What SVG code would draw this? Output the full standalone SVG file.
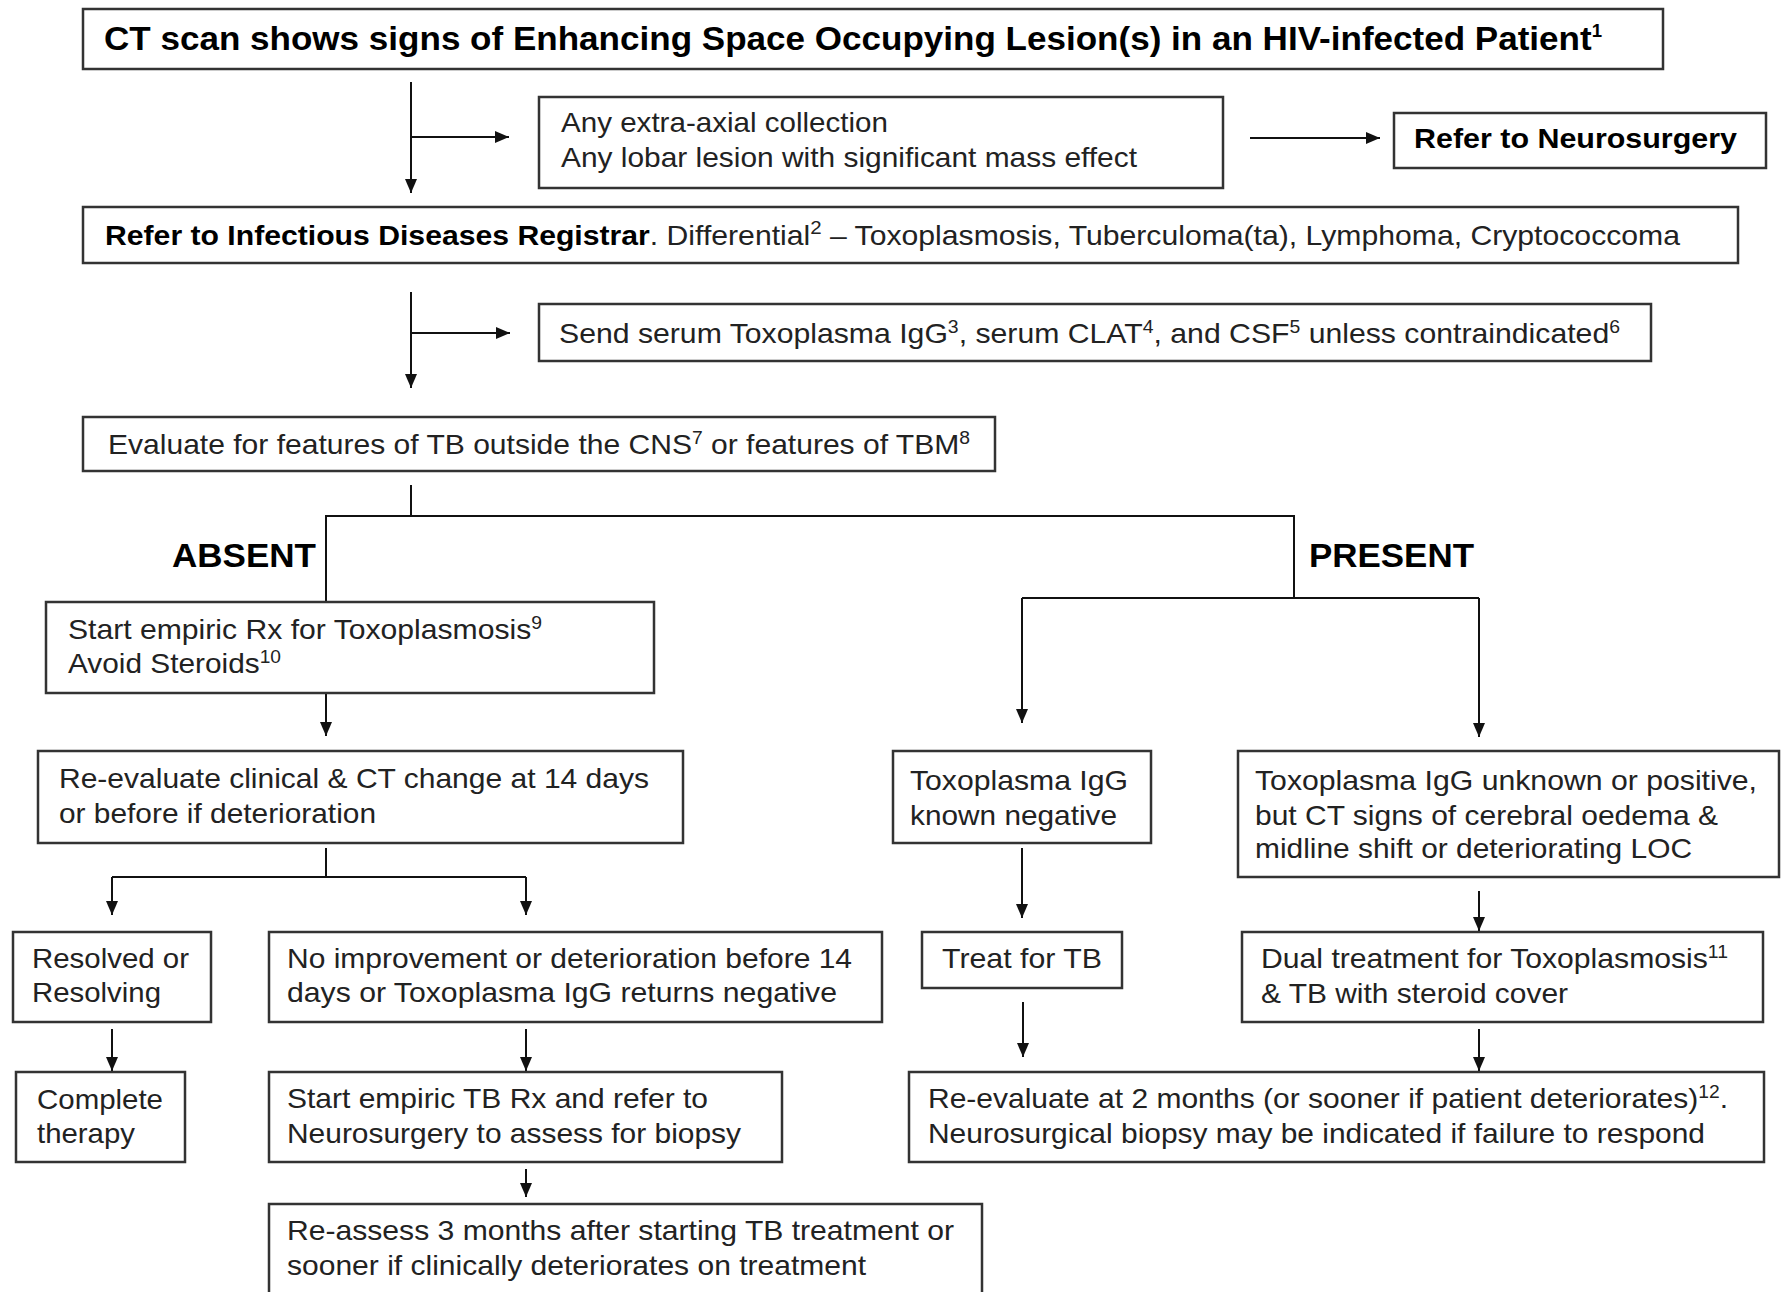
<svg xmlns="http://www.w3.org/2000/svg" width="1785" height="1292" viewBox="0 0 1785 1292">
<style>
.box{fill:#fff;stroke:#333;stroke-width:2.5}
.t{font-family:"Liberation Sans",Arial,sans-serif;font-size:28px;fill:#222}
.b{font-family:"Liberation Sans",Arial,sans-serif;font-weight:bold;fill:#000}
.c{fill:none;stroke:#111;stroke-width:2}
</style>
<defs>
<marker id="ah" markerUnits="userSpaceOnUse" markerWidth="14" markerHeight="12" refX="14" refY="6" orient="auto">
<path d="M0,0 L14,6 L0,12 z" fill="#111"/>
</marker>
</defs>
<rect width="1785" height="1292" fill="#fff"/>

<g id="connectors">
<path class="c" d="M411,82 V193" marker-end="url(#ah)"/>
<path class="c" d="M411,137 H509" marker-end="url(#ah)"/>
<path class="c" d="M1250,138 H1380" marker-end="url(#ah)"/>
<path class="c" d="M411,292 V388" marker-end="url(#ah)"/>
<path class="c" d="M411,333 H510" marker-end="url(#ah)"/>
<path class="c" d="M411,485 V516"/>
<path class="c" d="M326,602 V516 H1294 V598"/>
<path class="c" d="M1022,598 H1479"/>
<path class="c" d="M1022,598 V723" marker-end="url(#ah)"/>
<path class="c" d="M1479,598 V737" marker-end="url(#ah)"/>
<path class="c" d="M326,693 V736" marker-end="url(#ah)"/>
<path class="c" d="M326,848 V877"/>
<path class="c" d="M112,877 H526"/>
<path class="c" d="M112,877 V915" marker-end="url(#ah)"/>
<path class="c" d="M526,877 V915" marker-end="url(#ah)"/>
<path class="c" d="M112,1029 V1071" marker-end="url(#ah)"/>
<path class="c" d="M526,1029 V1071" marker-end="url(#ah)"/>
<path class="c" d="M526,1169 V1197" marker-end="url(#ah)"/>
<path class="c" d="M1022,848 V918" marker-end="url(#ah)"/>
<path class="c" d="M1479,891 V931" marker-end="url(#ah)"/>
<path class="c" d="M1023,1002 V1057" marker-end="url(#ah)"/>
<path class="c" d="M1479,1029 V1071" marker-end="url(#ah)"/>
</g>

<g id="title">
<rect class="box" x="83" y="9" width="1580" height="60"/>
<text class="b" x="104" y="50" font-size="34" textLength="1498" lengthAdjust="spacingAndGlyphs">CT scan shows signs of Enhancing Space Occupying Lesion(s) in an HIV-infected Patient<tspan font-size="18" dy="-13">1</tspan></text>
</g>

<g id="extra-axial">
<rect class="box" x="539" y="97" width="684" height="91"/>
<text class="t" x="561" y="132" textLength="327" lengthAdjust="spacingAndGlyphs">Any extra-axial collection</text>
<text class="t" x="561" y="167" textLength="576" lengthAdjust="spacingAndGlyphs">Any lobar lesion with significant mass effect</text>
</g>

<g id="neurosurgery">
<rect class="box" x="1394" y="113" width="372" height="55"/>
<text class="b" x="1414" y="148" font-size="28" textLength="323" lengthAdjust="spacingAndGlyphs">Refer to Neurosurgery</text>
</g>

<g id="registrar">
<rect class="box" x="83" y="207" width="1655" height="56"/>
<text class="t" x="105" y="245" textLength="1575" lengthAdjust="spacingAndGlyphs"><tspan class="b">Refer to Infectious Diseases Registrar</tspan>. Differential<tspan font-size="19" dy="-11">2</tspan><tspan dy="11"> – Toxoplasmosis, Tuberculoma(ta), Lymphoma, Cryptococcoma</tspan></text>
</g>

<g id="send-serum">
<rect class="box" x="539" y="304" width="1112" height="57"/>
<text class="t" x="559" y="343" textLength="1061" lengthAdjust="spacingAndGlyphs">Send serum Toxoplasma IgG<tspan font-size="18" dy="-10">3</tspan><tspan dy="10">, serum CLAT</tspan><tspan font-size="18" dy="-10">4</tspan><tspan dy="10">, and CSF</tspan><tspan font-size="18" dy="-10">5</tspan><tspan dy="10"> unless contraindicated</tspan><tspan font-size="18" dy="-10">6</tspan></text>
</g>

<g id="evaluate">
<rect class="box" x="83" y="417" width="912" height="54"/>
<text class="t" x="108" y="454" textLength="862" lengthAdjust="spacingAndGlyphs">Evaluate for features of TB outside the CNS<tspan font-size="18" dy="-10">7</tspan><tspan dy="10"> or features of TBM</tspan><tspan font-size="18" dy="-10">8</tspan></text>
</g>

<g id="label-absent">
<text class="b" x="172" y="567" font-size="33" textLength="144" lengthAdjust="spacingAndGlyphs">ABSENT</text>
</g>
<g id="label-present">
<text class="b" x="1309" y="567" font-size="33" textLength="165" lengthAdjust="spacingAndGlyphs">PRESENT</text>
</g>

<g id="start-empiric">
<rect class="box" x="46" y="602" width="608" height="91"/>
<text class="t" x="68" y="639" textLength="474" lengthAdjust="spacingAndGlyphs">Start empiric Rx for Toxoplasmosis<tspan font-size="18" dy="-10">9</tspan></text>
<text class="t" x="68" y="673" textLength="213" lengthAdjust="spacingAndGlyphs">Avoid Steroids<tspan font-size="18" dy="-10">10</tspan></text>
</g>

<g id="re-evaluate">
<rect class="box" x="38" y="751" width="645" height="92"/>
<text class="t" x="59" y="788" textLength="590" lengthAdjust="spacingAndGlyphs">Re-evaluate clinical &amp; CT change at 14 days</text>
<text class="t" x="59" y="823" textLength="317" lengthAdjust="spacingAndGlyphs">or before if deterioration</text>
</g>

<g id="toxo-negative">
<rect class="box" x="893" y="751" width="258" height="92"/>
<text class="t" x="910" y="790" textLength="218" lengthAdjust="spacingAndGlyphs">Toxoplasma IgG</text>
<text class="t" x="910" y="825" textLength="207" lengthAdjust="spacingAndGlyphs">known negative</text>
</g>

<g id="toxo-unknown">
<rect class="box" x="1238" y="751" width="541" height="126"/>
<text class="t" x="1255" y="790" textLength="502" lengthAdjust="spacingAndGlyphs">Toxoplasma IgG unknown or positive,</text>
<text class="t" x="1255" y="825" textLength="463" lengthAdjust="spacingAndGlyphs">but CT signs of cerebral oedema &amp;</text>
<text class="t" x="1255" y="858" textLength="437" lengthAdjust="spacingAndGlyphs">midline shift or deteriorating LOC</text>
</g>

<g id="resolved">
<rect class="box" x="13" y="932" width="198" height="90"/>
<text class="t" x="32" y="968" textLength="157" lengthAdjust="spacingAndGlyphs">Resolved or</text>
<text class="t" x="32" y="1002" textLength="129" lengthAdjust="spacingAndGlyphs">Resolving</text>
</g>

<g id="no-improvement">
<rect class="box" x="269" y="932" width="613" height="90"/>
<text class="t" x="287" y="968" textLength="565" lengthAdjust="spacingAndGlyphs">No improvement or deterioration before 14</text>
<text class="t" x="287" y="1002" textLength="550" lengthAdjust="spacingAndGlyphs">days or Toxoplasma IgG returns negative</text>
</g>

<g id="treat-tb">
<rect class="box" x="922" y="932" width="200" height="56"/>
<text class="t" x="942" y="968" textLength="160" lengthAdjust="spacingAndGlyphs">Treat for TB</text>
</g>

<g id="dual-treatment">
<rect class="box" x="1242" y="932" width="521" height="90"/>
<text class="t" x="1261" y="968" textLength="467" lengthAdjust="spacingAndGlyphs">Dual treatment for Toxoplasmosis<tspan font-size="18" dy="-10">11</tspan></text>
<text class="t" x="1261" y="1003" textLength="307" lengthAdjust="spacingAndGlyphs">&amp; TB with steroid cover</text>
</g>

<g id="complete-therapy">
<rect class="box" x="16" y="1072" width="169" height="90"/>
<text class="t" x="37" y="1109" textLength="126" lengthAdjust="spacingAndGlyphs">Complete</text>
<text class="t" x="37" y="1143" textLength="98" lengthAdjust="spacingAndGlyphs">therapy</text>
</g>

<g id="start-tb">
<rect class="box" x="269" y="1072" width="513" height="90"/>
<text class="t" x="287" y="1108" textLength="421" lengthAdjust="spacingAndGlyphs">Start empiric TB Rx and refer to</text>
<text class="t" x="287" y="1143" textLength="454" lengthAdjust="spacingAndGlyphs">Neurosurgery to assess for biopsy</text>
</g>

<g id="re-evaluate-2-months">
<rect class="box" x="909" y="1072" width="855" height="90"/>
<text class="t" x="928" y="1108" textLength="800" lengthAdjust="spacingAndGlyphs">Re-evaluate at 2 months (or sooner if patient deteriorates)<tspan font-size="18" dy="-10">12</tspan><tspan dy="10">.</tspan></text>
<text class="t" x="928" y="1143" textLength="777" lengthAdjust="spacingAndGlyphs">Neurosurgical biopsy may be indicated if failure to respond</text>
</g>

<g id="re-assess">
<rect class="box" x="269" y="1204" width="713" height="100"/>
<text class="t" x="287" y="1240" textLength="667" lengthAdjust="spacingAndGlyphs">Re-assess 3 months after starting TB treatment or</text>
<text class="t" x="287" y="1275" textLength="579" lengthAdjust="spacingAndGlyphs">sooner if clinically deteriorates on treatment</text>
</g>
</svg>
